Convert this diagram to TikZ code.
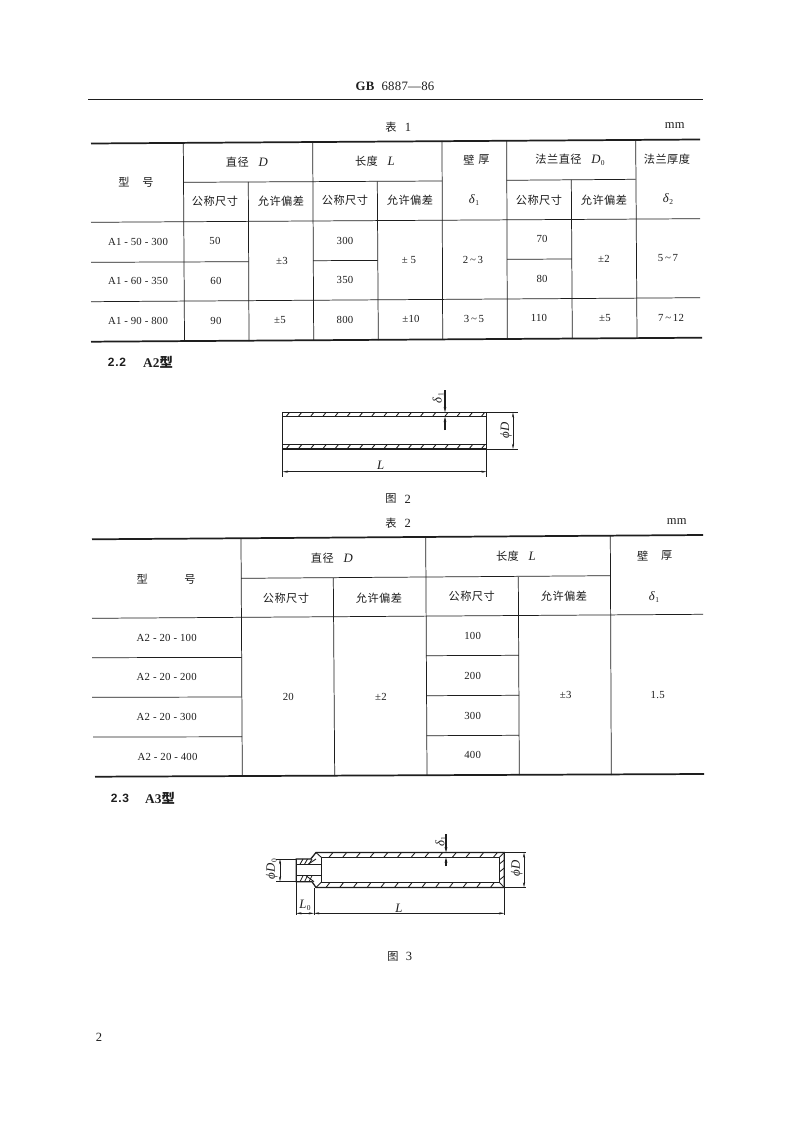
\documentclass[tikz,border=0pt]{standalone}
\usepackage{fontspec}
\usetikzlibrary{arrows.meta}
\setmainfont[LetterSpace=2]{Liberation Serif}
\newfontfamily\cjk{Noto Sans CJK SC}
\newfontfamily\hsans[LetterSpace=6]{Liberation Sans}
\definecolor{ink}{HTML}{1E1E1E}
\newcounter{cellno}
\newcommand\tx[3]{\stepcounter{cellno}\node[lab] (n\arabic{cellno}) at (#1,#2) {#3};}
\newcommand\rtx[3]{\stepcounter{cellno}\node[lab,rotate=90] (n\arabic{cellno}) at (#1,#2) {#3};}
\newcommand\zh[1]{{\cjk\fontsize{8.4}{9}\selectfont\addfontfeature{LetterSpace=4}#1}}
\newcommand\sy[1]{{\fontsize{9.6}{10}\selectfont\textit{#1}}}
\newcommand\lowsub[1]{\raisebox{-0.35ex}{\fontsize{5.6}{6}\selectfont #1}}
\newcommand\til{\,\char`\~\,}
\tikzset{
 lab/.style={inner sep=0pt,outer sep=0pt,text=ink,font=\fontsize{8.1}{9}\selectfont},
 rule/.style={draw=ink,line width=0.55pt},
 heavy/.style={draw=ink,line width=1.3pt},
 part/.style={draw=ink,line width=0.95pt},
 tick/.style={draw=ink,line width=0.65pt},
 dim/.style={draw=ink,line width=0.4pt},
 dimarrow/.style={dim,{Stealth[length=4pt,width=1.6pt]}-{Stealth[length=4pt,width=1.6pt]}},
 pointer/.style={draw=ink,line width=0.8pt,-{Stealth[length=4pt,width=2pt]}}
}
\begin{document}
\begin{tikzpicture}[x=0.75pt,y=-0.75pt]
\useasboundingbox[fill=white] (0,0) rectangle (794,1123);
% page head
\draw[draw=ink,line width=0.75pt] (88,99.3) -- (703,99.3);
\tx{395}{86}{\fontsize{9.6}{10}\selectfont\textbf{GB}\ \ 6887—86}
\tx{391}{127}{\zh{表}}\tx{408}{127}{\fontsize{9.4}{10}\selectfont 1}
\tx{674.7}{125.7}{\fontsize{9.4}{10}\selectfont mm}

% ---------- Table 1 rules
\draw[heavy] (91,143.5) -- (700,139.5);
\draw[heavy] (91,341.7) -- (702,337.7);
\draw[rule] (183.3,143) -- (184.5,341);
\draw[rule] (248.3,182) -- (249,341);
\draw[rule] (312.7,142) -- (313.7,340.5);
\draw[rule] (377.3,181.5) -- (378.3,340);
\draw[rule] (442,141) -- (442.7,339.5);
\draw[rule] (506.7,141) -- (507.3,339);
\draw[rule] (571.3,180) -- (572.3,339);
\draw[rule] (635.7,141) -- (637,338.5);
\draw[rule] (183.3,182.3) -- (442,181);
\draw[rule] (506.7,180.3) -- (635.7,179.3);
\draw[rule] (91,222.3) -- (700,218.7);
\draw[rule] (91,262.3) -- (248.5,261.7);
\draw[rule] (313,260.7) -- (377.7,260.4);
\draw[rule] (507,259.3) -- (571.8,259);
\draw[rule] (91,301.7) -- (700,297.7);

% Table 1 text
\tx{124}{182}{\zh{型}}\tx{148}{182}{\zh{号}}
\tx{247}{162}{\zh{直径}\hspace{0.9em}\sy{D}}
\tx{375}{161}{\zh{长度}\hspace{0.9em}\sy{L}}
\tx{469}{160}{\zh{壁}}\tx{484}{160}{\zh{厚}}
\tx{570}{160}{\zh{法兰直径}\hspace{0.9em}\sy{D}\lowsub{0}}
\tx{667}{159}{\zh{法兰厚度}}
\tx{474}{200}{\sy{δ}\lowsub{1}}
\tx{668}{199}{\sy{δ}\lowsub{2}}
\tx{215}{201.7}{\zh{公称尺寸}}
\tx{281}{201}{\zh{允许偏差}}
\tx{345}{200}{\zh{公称尺寸}}
\tx{410}{200}{\zh{允许偏差}}
\tx{539}{200}{\zh{公称尺寸}}
\tx{604}{200}{\zh{允许偏差}}
\tx{138}{241.5}{A1 - 50 - 300}
\tx{138}{281}{A1 - 60 - 350}
\tx{138}{321}{A1 - 90 - 800}
\tx{215}{241}{50}\tx{216}{281}{60}\tx{216}{320.5}{90}
\tx{282}{261}{±3}\tx{280}{320}{±5}
\tx{345}{241}{300}\tx{345}{280}{350}\tx{345}{320}{800}
\tx{409}{260}{± 5}\tx{411}{319}{±10}
\tx{473}{260}{2\til 3}\tx{474}{319}{3\til 5}
\tx{542}{239}{70}\tx{542}{278.5}{80}\tx{539}{318}{110}
\tx{604}{259}{±2}\tx{605}{318}{±5}
\tx{668}{258}{5\til 7}\tx{671}{318}{7\til 12}

% 2.2 heading
\tx{117}{362}{{\hsans\bfseries\fontsize{9}{10}\selectfont 2.2}}
\tx{158}{362}{{\bfseries\fontsize{10}{10}\selectfont A2{\cjk 型}}}

% ---------- Figure 2
\draw[part] (282.7,412.3) rectangle (486.7,449);
\draw[part,line width=0.7pt] (282.7,416.7) -- (486.7,416.7);
\draw[part,line width=0.7pt] (282.7,444.7) -- (486.7,444.7);
\foreach \k in {0,...,16}{
  \draw[tick] ({286+12.2*\k},416.7) -- ({289.5+12.2*\k},412.3);
  \draw[tick] ({286+12.2*\k},449) -- ({289.5+12.2*\k},444.7);
}
\draw[dim] (282.7,449) -- (282.7,477);
\draw[dim] (486.7,449) -- (486.7,477);
\draw[dim] (486.7,412.3) -- (518,412.3);
\draw[dim] (486.7,449) -- (518,449);
\draw[dimarrow] (513,412.3) -- (513,449);
\draw[dimarrow] (282.7,471.7) -- (486.7,471.7);
\tx{380.7}{465}{\sy{L}}
\rtx{506}{430}{\sy{ϕD}}
\draw[pointer] (445,390) -- (445,412.3);
\draw[pointer] (445,430) -- (445,416.7);
\rtx{438}{398}{\sy{δ}\lowsub{1}}
\tx{391}{498.5}{\zh{图}}\tx{407.7}{499}{\fontsize{9.4}{10}\selectfont 2}

% ---------- Table 2
\tx{391}{523}{\zh{表}}\tx{407.7}{523}{\fontsize{9.4}{10}\selectfont 2}
\tx{676.7}{522}{\fontsize{9.4}{10}\selectfont mm}
\draw[heavy] (92,539.3) -- (703,535);
\draw[heavy] (95,776.7) -- (704,774);
\draw[rule] (241,539) -- (242.3,776);
\draw[rule] (333.3,578) -- (334.7,776);
\draw[rule] (425.7,538) -- (427,775.5);
\draw[rule] (518.3,577) -- (519.3,775);
\draw[rule] (610.3,536) -- (611.3,775);
\draw[rule] (241,578.3) -- (610.3,575.7);
\draw[rule] (92,618.3) -- (703,614.3);
\draw[rule] (92,657.7) -- (241.7,657.4);
\draw[rule] (426,655.7) -- (518.8,655.3);
\draw[rule] (92,697.3) -- (242,697);
\draw[rule] (426.3,695.7) -- (519,695.3);
\draw[rule] (93,737) -- (242.2,736.8);
\draw[rule] (426.6,735.7) -- (519.2,735.3);

\tx{142.3}{579}{\zh{型}}\tx{190}{579}{\zh{号}}
\tx{332}{558}{\zh{直径}\hspace{0.9em}\sy{D}}
\tx{516}{556.7}{\zh{长度}\hspace{0.9em}\sy{L}}
\tx{642.7}{556}{\zh{壁}}\tx{666.7}{556}{\zh{厚}}
\tx{654}{596.7}{\sy{δ}\lowsub{1}}
\tx{286}{598}{\zh{公称尺寸}}
\tx{379}{598}{\zh{允许偏差}}
\tx{471.7}{596.7}{\zh{公称尺寸}}
\tx{564}{596.7}{\zh{允许偏差}}
\tx{166.7}{638.3}{A2 - 20 - 100}
\tx{166.7}{677.3}{A2 - 20 - 200}
\tx{166.7}{717.3}{A2 - 20 - 300}
\tx{167.5}{756.7}{A2 - 20 - 400}
\tx{288.3}{697}{20}\tx{381}{697}{±2}
\tx{472.7}{636}{100}\tx{472.7}{675.7}{200}\tx{472.7}{715.7}{300}\tx{472.7}{755}{400}
\tx{565.7}{695}{±3}\tx{657.7}{695}{1.5}

% 2.3 heading
\tx{120}{798}{{\hsans\bfseries\fontsize{9}{10}\selectfont 2.3}}
\tx{160}{798}{{\bfseries\fontsize{10}{10}\selectfont A3{\cjk 型}}}

% ---------- Figure 3
\draw[part] (296.2,859) -- (310.7,859) -- (316,852.5) -- (504.3,852.5) -- (504.3,887.5) -- (316,887.5) -- (312,881.7) -- (296.2,881.7) -- cycle;
\draw[part,line width=0.7pt] (296.2,864.3) -- (321.3,864.3);
\draw[part,line width=0.7pt] (296.2,875.7) -- (321.3,875.7);
\draw[part,line width=0.7pt] (321.3,857.3) rectangle (499.3,882.3);
\draw[tick] (316,852.5) -- (321.3,857.3);
\draw[tick] (316,887.5) -- (321.3,882.3);
\draw[tick] (499.3,857.3) -- (504.3,852.5);
\draw[tick] (499.3,882.3) -- (504.3,887.5);
\draw[tick] (308,864.3) -- (316,859);
\draw[tick] (306,875.7) -- (314,881.7);
\foreach \k in {0,...,12}{
  \draw[tick] ({329+13.7*\k},857.3) -- ({333+13.7*\k},852.5);
  \draw[tick] ({326+13.7*\k},887.5) -- ({330+13.7*\k},882.3);
}
\foreach \k in {0,1,2}{
  \draw[tick] (499.3,{864+8*\k}) -- (504.3,{860+8*\k});
  \draw[tick] ({300+4.5*\k},864.3) -- ({303+4.5*\k},859);
  \draw[tick] ({300+4.5*\k},881.7) -- ({303+4.5*\k},875.7);
}
\draw[dim] (296.2,859) -- (276,859);
\draw[dim] (296.2,881.7) -- (276,881.7);
\draw[dimarrow] (280,859) -- (280,881.7);
\rtx{271.7}{869}{\sy{ϕD}\lowsub{0}}
\draw[dim] (504.3,852.5) -- (526,852.5);
\draw[dim] (504.3,887.5) -- (526,887.5);
\draw[dimarrow] (524,852.5) -- (524,887.5);
\rtx{516.7}{868}{\sy{ϕD}}
\draw[dim] (296.2,881.7) -- (296.2,915);
\draw[dim] (314,887.5) -- (314,915);
\draw[dim] (504.3,887.5) -- (504.3,915);
\draw[dimarrow] (296.2,913.3) -- (314,913.3);
\draw[dimarrow] (314,913.3) -- (504.3,913.3);
\tx{305}{905.7}{\sy{L}\lowsub{0}}
\tx{399}{908}{\sy{L}}
\draw[pointer] (446,834) -- (446,852.5);
\draw[pointer] (446,866) -- (446,857.3);
\rtx{440.7}{841.7}{\sy{δ}\lowsub{1}}
\tx{393}{956}{\zh{图}}\tx{409}{956}{\fontsize{9.4}{10}\selectfont 3}
\tx{99}{1037}{\fontsize{9.4}{10}\selectfont 2}
\end{tikzpicture}
\end{document}
